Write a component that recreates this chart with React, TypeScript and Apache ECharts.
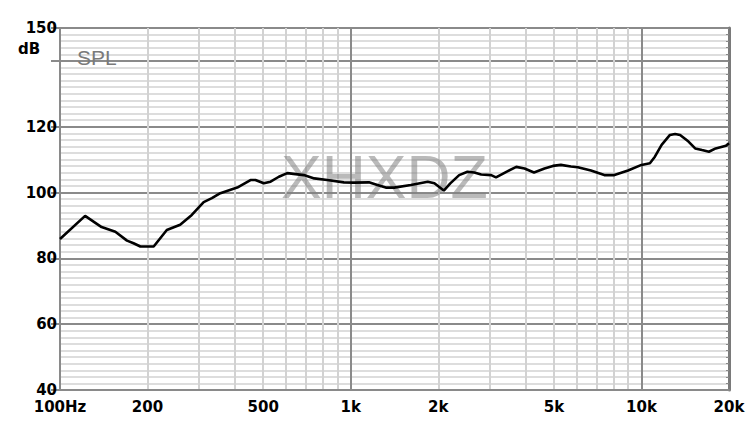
import React, { useEffect, useRef } from "react";
import * as echarts from "echarts";

const freqs = [100, 122, 139, 155, 170, 179, 189, 210, 233, 259, 284, 312, 333, 356, 407, 452, 470, 502, 530, 566, 605, 646, 690, 749, 830, 947, 1025, 1155, 1235, 1320, 1410, 1610, 1840, 1940, 2090, 2200, 2360, 2520, 2660, 2810, 3040, 3160, 3430, 3710, 3960, 4270, 4640, 4960, 5280, 5720, 6040, 6700, 7450, 8070, 8990, 10000, 10690, 11120, 11730, 12530, 13050, 13580, 14510, 15300, 16150, 17060, 18000, 19520, 20000];
const spl = [85.9, 92.9, 89.5, 88.1, 85.4, 84.6, 83.6, 83.6, 88.6, 90.2, 93.2, 97.1, 98.3, 99.8, 101.5, 103.8, 103.8, 102.8, 103.3, 104.8, 105.9, 105.6, 105.3, 104.3, 103.8, 103.1, 103.0, 103.1, 102.3, 101.5, 101.5, 102.3, 103.3, 102.8, 100.6, 102.8, 105.3, 106.3, 106.1, 105.5, 105.3, 104.6, 106.3, 107.8, 107.3, 106.1, 107.3, 108.1, 108.4, 107.9, 107.7, 106.7, 105.3, 105.3, 106.7, 108.4, 108.9, 110.9, 114.5, 117.5, 117.8, 117.5, 115.5, 113.4, 112.9, 112.4, 113.4, 114.2, 115.0];

const minorXTicks = [200, 300, 400, 500, 600, 700, 800, 900, 2000, 3000, 4000, 5000, 6000, 7000, 8000, 9000];
const majorXTicks = [1000, 10000];
const xLabelValues = [100, 200, 500, 1000, 2000, 5000, 10000, 20000];
const yMajorTicks = [40, 60, 80, 100, 120, 140, 150];
const yLabelValues = [40, 60, 80, 100, 120, 150];

const fmtFreq = (v: number) => {
  const r = Math.round(v);
  if (r === 100) return "100Hz";
  if (r >= 1000) return r / 1000 + "k";
  return String(r);
};

export default function App() {
  const ref = useRef<HTMLDivElement>(null);
  useEffect(() => {
    if (!ref.current) return;
    const chart = echarts.init(ref.current, undefined, { renderer: "svg" });
    const labelFont = "'DejaVu Sans', Arial, sans-serif";
    chart.setOption({
      animation: false,
      backgroundColor: "#ffffff",
      grid: {
        left: 60,
        right: 22,
        top: 28,
        bottom: 35,
        show: true,
        borderColor: "#8a8a8a",
        borderWidth: 2,
        backgroundColor: "transparent",
      },
      xAxis: [
        {
          type: "log",
          logBase: 10,
          min: 100,
          max: 20000,
          axisLine: { show: true, lineStyle: { color: "#8a8a8a", width: 2 } },
          axisTick: { show: false, customValues: minorXTicks },
          axisLabel: { show: false },
          splitLine: { show: true, lineStyle: { color: "#d2d2d2", width: 2 } },
        },
        {
          type: "log",
          logBase: 10,
          min: 100,
          max: 20000,
          position: "bottom",
          axisLine: { show: false },
          axisTick: { show: false, customValues: majorXTicks },
          axisLabel: {
            show: true,
            customValues: xLabelValues,
            formatter: (v: number) => fmtFreq(v),
            color: "#000",
            fontFamily: labelFont,
            fontWeight: "bold",
            fontSize: 15,
            margin: 9,
            hideOverlap: false,
            showMinLabel: true,
            showMaxLabel: true,
          },
          splitLine: { show: true, lineStyle: { color: "#8a8a8a", width: 2 } },
        },
      ],
      yAxis: [
        {
          type: "value",
          min: 40,
          max: 150,
          interval: 2,
          axisLine: { show: true, lineStyle: { color: "#8a8a8a", width: 2 } },
          axisTick: { show: false },
          axisLabel: { show: false },
          splitLine: { show: true, lineStyle: { color: "#d2d2d2", width: 1.6 } },
        },
        {
          type: "value",
          min: 40,
          max: 150,
          position: "left",
          axisLine: { show: false },
          axisTick: {
            show: true,
            customValues: yMajorTicks,
            length: 9,
            lineStyle: { color: "#8a8a8a", width: 2 },
          },
          axisLabel: {
            show: true,
            customValues: yLabelValues,
            color: "#000",
            fontFamily: labelFont,
            fontWeight: "bold",
            fontSize: 15,
            margin: 3,
          },
          splitLine: { show: true, lineStyle: { color: "#8a8a8a", width: 2 } },
        },
        {
          type: "value",
          min: 40,
          max: 150,
          interval: 2,
          position: "right",
          axisLine: { show: true, lineStyle: { color: "#7a7a7a", width: 3 } },
          axisTick: { show: true, inside: true, length: 3, lineStyle: { color: "#8a8a8a", width: 1 } },
          axisLabel: { show: false },
          splitLine: { show: false },
        },
      ],
      graphic: [
        {
          type: "text",
          left: 18,
          top: 41,
          style: {
            text: "dB",
            fill: "#000",
            font: "bold 15px 'DejaVu Sans', Arial, sans-serif",
          },
        },
        {
          type: "text",
          left: 77,
          top: 47,
          z: 10,
          style: {
            text: "SPL",
            fill: "#7a7a7a",
            font: "21px 'Liberation Sans', Arial, sans-serif",
          },
        },
        {
          type: "text",
          left: 281,
          top: 146,
          z: 10,
          style: {
            text: "XHXDZ",
            fill: "rgba(130,130,130,0.55)",
            font: "61px 'Liberation Sans', Arial, sans-serif",
          },
        },
      ],
      series: [
        {
          type: "line",
          xAxisIndex: 0,
          yAxisIndex: 0,
          data: freqs.map((f, i) => [f, spl[i]]),
          showSymbol: false,
          symbol: "none",
          lineStyle: { color: "#000", width: 2.6 },
          z: 20,
        },
      ],
    });
    return () => chart.dispose();
  }, []);
  return (
    <div
      ref={ref}
      style={{ position: "fixed", left: 0, top: 0, width: 751, height: 425 }}
    />
  );
}
